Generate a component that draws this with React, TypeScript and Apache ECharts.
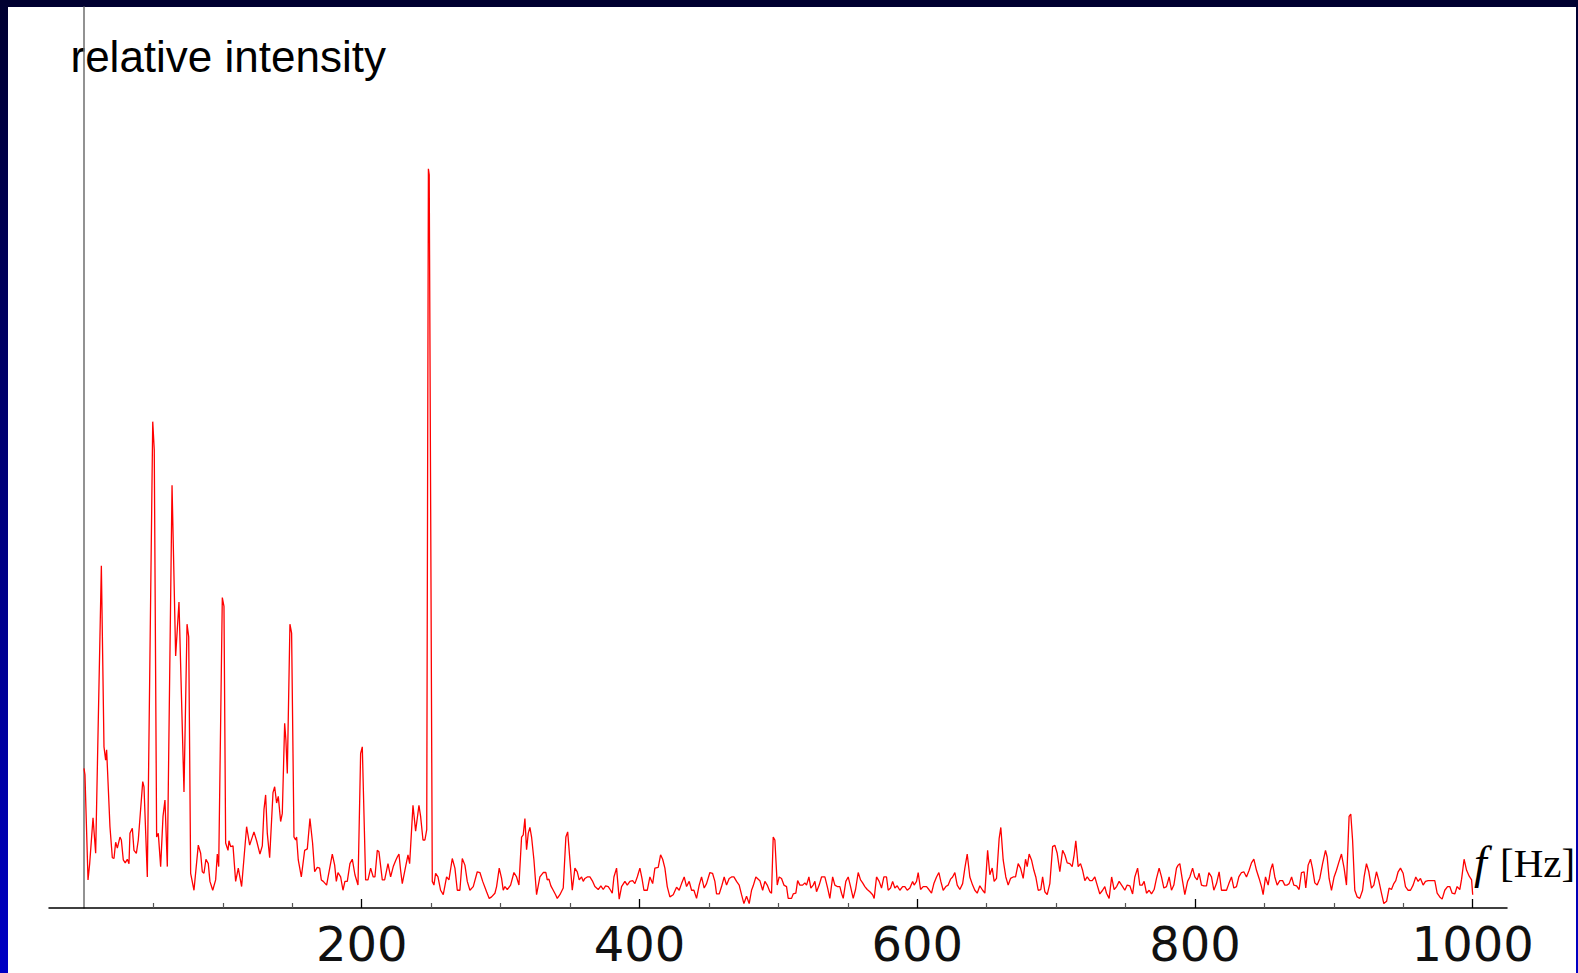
import { useEffect, useRef } from "react";
import * as echarts from "echarts";

// [frequency in Hz, relative intensity (tallest peak = 100)]
const band0to130: [number, number][] = [
  [0, 18.9], [0.7, 18.0], [2.9, 3.8], [4.1, 6.0], [6.5, 12.2], [8.4, 7.4],
  [12.5, 46.3], [14.4, 21.8], [15.6, 20.0], [16.3, 21.4], [18.7, 11.0], [20.4, 6.8],
  [21.6, 6.7], [22.8, 8.9], [24.0, 8.1], [25.9, 9.6], [26.9, 9.2], [28.3, 6.5],
  [29.7, 6.1], [31.2, 6.6], [32.4, 6.0], [33.1, 10.1], [34.8, 10.8], [36.0, 7.8],
  [37.7, 7.4], [39.1, 9.2], [42.3, 17.1], [43.2, 16.4], [45.6, 4.2], [49.5, 65.8],
  [50.6, 62.0], [52.3, 9.6], [53.5, 10.1], [55.2, 5.6], [56.9, 12.4], [58.3, 14.6],
  [60.0, 5.6], [63.4, 57.2], [66.0, 34.1], [68.4, 41.4], [72.0, 15.7], [74.2, 38.4],
  [75.4, 36.7], [76.8, 4.7], [79.2, 2.4], [82.3, 8.5], [84.0, 7.4], [85.2, 4.9],
  [86.4, 4.7], [87.8, 6.6], [89.5, 6.0], [90.7, 3.6], [92.7, 2.4], [94.8, 3.8],
  [96.0, 7.3], [97.0, 5.6], [99.6, 42.0], [100.8, 40.8], [102.0, 8.8], [103.7, 7.8],
  [104.4, 9.1], [105.6, 8.3], [107.3, 8.4], [109.2, 3.6], [111.1, 5.4], [113.5, 2.9],
  [117.1, 11.0], [119.3, 8.5], [122.4, 10.3], [124.3, 9.1], [126.7, 7.3], [128.4, 8.4],
];

const band130to260: [number, number][] = [
  [129.6, 13.3], [130.8, 15.3], [132.0, 10.1], [133.7, 6.8], [136.1, 15.6], [137.3, 16.4],
  [138.7, 14.2], [139.9, 15.1], [141.6, 11.7], [142.8, 12.8], [144.5, 25.0], [145.4, 22.7],
  [146.4, 18.2], [148.3, 38.4], [149.5, 37.2], [151.2, 9.6], [152.4, 9.2], [153.1, 9.6],
  [154.3, 6.5], [156.5, 4.2], [158.9, 7.8], [160.8, 8.0], [162.7, 12.1], [164.6, 8.8],
  [166.1, 4.9], [168.0, 5.5], [169.7, 5.4], [170.9, 3.8], [172.3, 3.6], [174.7, 3.1],
  [178.8, 7.3], [180.5, 5.8], [181.7, 3.6], [182.9, 4.8], [184.8, 4.2], [186.5, 2.4],
  [187.9, 3.6], [189.6, 3.6], [191.5, 6.0], [193.2, 6.6], [195.1, 4.5], [197.3, 3.1],
  [199.2, 20.9], [200.4, 21.8], [202.8, 3.8], [204.5, 3.8], [206.4, 5.4], [208.3, 4.2],
  [209.5, 4.2], [211.2, 7.8], [212.4, 7.6], [214.8, 3.8], [216.5, 3.8], [218.9, 6.0],
  [220.8, 4.2], [222.7, 5.6], [224.6, 6.5], [225.6, 6.9], [226.8, 7.3], [228.0, 5.1],
  [229.2, 3.3], [231.6, 5.6], [233.3, 7.2], [234.5, 6.0], [236.9, 13.9], [238.8, 10.4],
  [241.2, 13.9], [242.4, 12.4], [244.1, 9.2], [245.5, 9.2], [246.8, 10.6], [248.0, 100],
  [248.6, 99.2], [250.8, 3.6], [252.0, 3.1], [253.2, 4.7], [254.9, 4.2], [256.8, 2.4],
];

const band260to500: [number, number][] = [
  [258.7, 1.8], [261.1, 4.2], [262.8, 3.8], [265.2, 6.7], [267.1, 5.4], [268.8, 2.4],
  [270.7, 2.4], [272.4, 6.7], [274.3, 5.8], [276.0, 3.6], [277.9, 2.4], [280.3, 2.9],
  [283.2, 4.9], [285.1, 4.8], [287.1, 3.6], [289.9, 2.2], [291.8, 1.3], [293.5, 1.5],
  [295.9, 2.0], [297.1, 2.9], [299.0, 5.4], [300.7, 4.0], [301.9, 2.4], [303.1, 2.9],
  [304.8, 2.5], [307.2, 3.1], [309.6, 4.8], [311.5, 4.2], [313.2, 3.1], [315.1, 9.6],
  [316.3, 9.9], [317.5, 12.1], [318.7, 7.9], [319.9, 10.1], [321.1, 10.9], [322.3, 9.6],
  [324.0, 6.5], [325.9, 1.8], [328.3, 4.2], [330.7, 4.8], [332.6, 4.8], [333.6, 3.8],
  [334.8, 3.9], [336.2, 3.0], [337.9, 2.4], [339.6, 1.8], [340.8, 1.3], [342.7, 1.8],
  [345.1, 2.7], [347.0, 9.6], [348.3, 10.3], [349.9, 6.5], [351.6, 2.4], [353.5, 5.4],
  [355.2, 4.9], [356.6, 3.8], [358.3, 4.2], [359.5, 3.6], [360.7, 4.0], [362.4, 4.2],
  [364.3, 4.2], [366.3, 3.6], [367.9, 2.9], [370.3, 2.5], [372.2, 3.0], [373.9, 2.5],
  [375.6, 3.0], [377.5, 2.9], [379.2, 2.4], [380.4, 2.0], [381.6, 4.2], [383.5, 5.4],
  [385.4, 1.2], [387.1, 2.9], [389.5, 3.6], [391.2, 3.1], [393.1, 3.6], [395.1, 3.7],
  [396.7, 3.3], [398.4, 4.2], [400.3, 5.4], [401.8, 4.0], [403.2, 2.4], [405.6, 2.4],
  [407.5, 4.2], [409.5, 3.3], [411.1, 5.4], [413.5, 5.5], [415.2, 7.2], [416.7, 6.6],
  [418.3, 5.4], [420.0, 2.9], [421.9, 1.5], [424.3, 1.8], [426.7, 2.8], [428.6, 2.4],
  [430.3, 3.3], [432.2, 4.2], [433.9, 2.9], [435.8, 3.6], [437.5, 2.4], [439.2, 2.4],
  [441.1, 1.3], [443.0, 3.1], [444.7, 4.2], [446.6, 2.7], [448.3, 3.3], [450.7, 4.8],
  [452.6, 4.7], [454.3, 3.6], [455.5, 1.9], [457.4, 1.9], [459.1, 2.9], [461.0, 4.2],
  [462.7, 3.1], [464.6, 4.0], [466.3, 4.2], [468.0, 4.2], [469.9, 3.6], [471.8, 3.1],
  [473.5, 1.8], [475.2, 0.6], [477.1, 1.6], [479.0, 0.6], [480.7, 2.4], [481.9, 3.0],
  [483.8, 4.2], [486.7, 3.7], [488.7, 2.4], [490.3, 3.6], [492.0, 3.1], [493.9, 2.2],
  [495.1, 2.0], [496.3, 9.6], [497.5, 9.2], [499.2, 3.1],
];

const band500to750: [number, number][] = [
  [500.6, 4.2], [502.3, 4.0], [504.0, 3.1], [505.9, 2.9], [507.1, 1.3], [509.5, 1.3],
  [510.7, 1.9], [512.6, 2.0], [513.9, 3.7], [515.5, 3.1], [517.5, 3.1], [519.1, 3.4],
  [520.3, 3.1], [522.0, 4.2], [523.4, 2.7], [525.1, 3.1], [526.3, 3.6], [527.5, 2.2],
  [529.4, 3.1], [531.1, 4.2], [533.5, 4.2], [535.5, 2.7], [537.1, 1.3], [539.1, 4.2],
  [540.7, 3.1], [542.4, 2.9], [544.3, 2.9], [545.5, 2.0], [546.7, 1.3], [548.6, 3.6],
  [550.3, 4.2], [552.0, 2.9], [553.9, 1.3], [555.6, 2.5], [557.5, 4.8], [559.2, 3.8],
  [560.7, 3.4], [562.3, 2.9], [564.0, 2.5], [565.9, 2.2], [567.9, 1.8], [569.0, 1.3],
  [570.7, 4.2], [572.6, 3.6], [574.3, 2.7], [576.0, 4.2], [577.9, 4.2], [579.1, 2.4],
  [580.8, 2.7], [582.3, 3.6], [583.9, 2.7], [585.6, 3.0], [587.5, 2.4], [589.5, 2.9],
  [591.1, 2.9], [592.8, 2.4], [594.7, 2.7], [596.7, 3.6], [597.8, 3.1], [599.5, 3.6],
  [600.7, 4.8], [602.4, 2.5], [604.3, 2.9], [606.7, 2.9], [608.4, 2.5], [610.3, 2.0],
  [612.0, 3.3], [613.9, 4.2], [615.6, 4.8], [617.0, 3.6], [618.7, 2.4], [620.6, 2.9],
  [622.3, 3.1], [624.0, 3.9], [625.5, 4.2], [627.1, 4.8], [628.8, 3.1], [630.7, 2.5],
  [632.7, 3.3], [634.3, 5.4], [636.0, 7.3], [637.9, 4.2], [639.9, 3.1], [641.5, 2.4],
  [643.2, 2.0], [645.1, 3.0], [647.1, 2.4], [648.7, 2.0], [650.7, 7.8], [652.3, 4.5],
  [654.0, 5.4], [655.4, 3.6], [657.1, 4.0], [659.0, 9.4], [660.2, 10.9], [661.9, 6.5],
  [663.8, 4.2], [665.5, 3.1], [667.2, 4.0], [669.1, 4.2], [670.8, 4.2], [672.7, 6.0],
  [674.4, 5.4], [676.3, 4.0], [678.0, 6.6], [679.2, 5.6], [680.6, 7.3], [682.3, 6.5],
  [684.0, 5.1], [685.4, 4.2], [687.1, 2.4], [689.0, 2.5], [690.3, 4.2], [691.9, 2.2],
  [693.6, 1.8], [695.5, 3.3], [697.5, 8.3], [699.1, 8.5], [700.8, 7.4], [702.7, 4.9],
  [704.7, 7.8], [706.3, 7.2], [708.0, 6.1], [709.9, 6.0], [711.6, 5.6], [713.0, 7.2],
  [714.2, 9.1], [715.9, 5.6], [717.6, 6.0], [719.1, 5.1], [720.7, 3.7], [722.4, 4.2],
  [724.3, 3.7], [726.0, 3.7], [727.9, 4.2], [729.6, 3.1], [731.5, 1.9], [733.5, 2.4],
  [735.1, 2.9], [736.3, 2.0], [738.2, 1.3], [740.0, 4.2], [741.8, 2.5], [743.6, 2.9],
  [745.4, 3.6], [747.9, 2.9], [749.5, 2.4],
];

const band750to1000: [number, number][] = [
  [751.2, 3.1], [753.1, 3.0], [755.1, 1.9], [756.7, 4.2], [758.7, 5.4], [760.3, 3.1],
  [762.0, 3.1], [763.4, 3.6], [765.1, 2.0], [767.0, 2.4], [768.7, 1.9], [770.6, 2.5],
  [772.3, 4.0], [774.2, 5.4], [775.9, 4.2], [777.6, 2.7], [779.5, 2.9], [781.4, 4.2],
  [783.1, 2.4], [784.8, 3.1], [786.7, 5.4], [787.9, 5.8], [789.1, 6.0], [791.1, 3.6],
  [792.7, 1.8], [794.7, 3.6], [796.3, 4.2], [798.3, 5.4], [799.9, 4.2], [801.6, 3.8],
  [803.0, 4.7], [804.7, 3.1], [806.4, 3.0], [808.3, 3.0], [810.0, 4.8], [811.9, 4.2],
  [813.6, 2.4], [815.5, 3.3], [817.4, 4.9], [819.1, 2.4], [820.8, 2.4], [822.7, 2.4],
  [824.4, 3.3], [826.3, 4.2], [828.0, 2.7], [829.9, 2.9], [831.6, 4.2], [833.5, 4.8],
  [835.2, 4.9], [837.1, 4.2], [839.0, 5.1], [840.7, 6.1], [842.4, 6.6], [844.3, 5.1],
  [846.2, 4.0], [847.9, 2.9], [849.1, 1.8], [850.8, 4.2], [852.7, 3.1], [854.4, 5.1],
  [855.9, 6.0], [857.5, 4.2], [859.2, 3.1], [861.1, 3.7], [863.1, 3.7], [864.7, 3.1],
  [866.4, 3.1], [867.8, 3.3], [869.6, 4.2], [871.2, 3.1], [873.2, 3.0], [875.0, 2.5],
  [876.7, 4.8], [878.6, 4.9], [879.8, 2.7], [881.5, 5.8], [883.2, 6.6], [884.6, 5.4],
  [886.3, 3.4], [888.0, 3.1], [889.9, 4.0], [891.9, 6.0], [894.0, 7.8], [895.2, 6.9],
  [896.6, 4.0], [898.3, 2.4], [900.2, 4.2], [901.9, 5.1], [903.8, 6.3], [905.5, 7.3],
  [907.4, 5.4], [909.1, 3.1], [911.0, 12.4], [912.2, 12.7], [913.5, 9.2], [915.1, 2.4],
  [916.8, 1.5], [918.7, 1.3], [920.7, 2.4], [921.8, 4.2], [923.5, 6.0], [925.2, 4.9],
  [927.1, 2.7], [928.8, 3.1], [930.7, 4.9], [932.4, 3.7], [934.3, 2.0], [936.0, 0.6],
  [938.0, 0.9], [939.8, 2.7], [941.5, 2.5], [943.2, 3.3], [944.6, 3.7], [946.3, 4.9],
  [948.0, 5.4], [949.9, 4.7], [951.6, 2.9], [953.5, 2.4], [955.2, 2.4], [957.1, 3.1],
  [959.0, 4.2], [960.7, 3.6], [962.4, 4.0], [964.3, 3.1], [966.0, 3.6], [967.9, 3.7],
  [970.3, 3.7], [972.7, 3.7], [974.4, 2.0], [976.3, 1.5], [978.0, 1.2], [979.9, 2.4],
  [981.9, 2.9], [983.5, 2.9], [985.2, 2.0], [987.1, 1.9], [988.8, 2.9], [990.7, 2.5],
  [992.0, 3.9], [993.8, 6.6], [995.6, 5.1], [997.5, 4.3], [999.2, 3.8], [1000, 1.8],
];

const majorTicks = [200, 400, 600, 800, 1000];
const minorTicks = [50, 100, 150, 250, 300, 350, 450, 500, 550, 650, 700, 750, 850, 900, 950];
const yTitle = "relative intensity";
const xTitleVar = "f";
const xTitleUnit = "[Hz]";

const X_MIN = -25.2;
const X_MAX = 1024.7;
const Y_MAX = 121.9;

export default function App() {
  const ref = useRef<HTMLDivElement>(null);

  useEffect(() => {
    document.body.style.margin = "0";
    const el = ref.current;
    if (!el) return;
    const chart = echarts.init(el, null, { renderer: "svg" });
    const data = [
      ...band0to130,
      ...band130to260,
      ...band260to500,
      ...band500to750,
      ...band750to1000,
    ];
    chart.setOption({
      animation: false,
      grid: { left: 49, right: 71, top: 7, bottom: 65, containLabel: false },
      xAxis: [
        {
          type: "value",
          min: X_MIN,
          max: X_MAX,
          axisLine: { show: true, onZero: false, lineStyle: { color: "#000", width: 1.5 } },
          axisTick: {
            show: true,
            inside: true,
            length: 9,
            customValues: majorTicks,
            lineStyle: { color: "#000", width: 1.3 },
          },
          axisLabel: {
            show: true,
            customValues: majorTicks,
            formatter: (v: number) => String(v),
            fontFamily: "DejaVu Sans",
            fontSize: 48,
            color: "#111",
            margin: 12,
          },
          splitLine: { show: false },
        },
        {
          type: "value",
          min: X_MIN,
          max: X_MAX,
          position: "bottom",
          axisLine: { show: false },
          axisTick: {
            show: true,
            inside: true,
            length: 5,
            customValues: minorTicks,
            lineStyle: { color: "#555", width: 1.2 },
          },
          axisLabel: { show: false },
          splitLine: { show: false },
        },
      ],
      yAxis: {
        type: "value",
        min: 0,
        max: Y_MAX,
        axisLine: { show: true, onZero: true, lineStyle: { color: "#6e6e6e", width: 1.5 } },
        axisTick: { show: false },
        axisLabel: { show: false },
        splitLine: { show: false },
      },
      series: [
        {
          type: "line",
          xAxisIndex: 0,
          data,
          showSymbol: false,
          symbol: "none",
          silent: true,
          lineStyle: { color: "#ff0000", width: 1.3 },
          itemStyle: { color: "#ff0000" },
        },
      ],
      graphic: [
        {
          type: "text",
          x: 70.5,
          y: 56.5,
          silent: true,
          style: {
            text: yTitle,
            fontFamily: '"Liberation Sans", Arial, sans-serif',
            fontSize: 44,
            fill: "#000",
            align: "left",
            verticalAlign: "middle",
          },
        },
        {
          type: "text",
          x: 1474,
          y: 862,
          silent: true,
          style: {
            text: xTitleVar,
            fontFamily: '"Liberation Serif", "Times New Roman", serif',
            fontStyle: "italic",
            fontSize: 46,
            fill: "#000",
            align: "left",
            verticalAlign: "middle",
          },
        },
        {
          type: "text",
          x: 1500,
          y: 863,
          silent: true,
          style: {
            text: xTitleUnit,
            fontFamily: '"Liberation Serif", "Times New Roman", serif',
            fontSize: 41,
            fill: "#000",
            align: "left",
            verticalAlign: "middle",
          },
        },
      ],
    });
    return () => chart.dispose();
  }, []);

  return (
    <div
      style={{
        position: "relative",
        width: 1578,
        height: 973,
        overflow: "hidden",
        background: "linear-gradient(to bottom, #000030, #0000c4)",
      }}
    >
      <div
        style={{
          position: "absolute",
          left: 8,
          top: 7,
          width: 1568,
          height: 966,
          background: "#ffffff",
        }}
      />
      <div
        ref={ref}
        style={{ position: "absolute", left: 0, top: 0, width: 1578, height: 973 }}
      />
    </div>
  );
}
